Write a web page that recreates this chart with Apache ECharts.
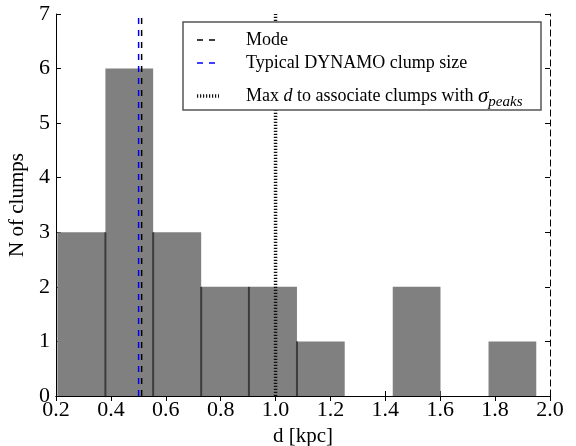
<!DOCTYPE html>
<html>
<head>
<meta charset="utf-8">
<script src="https://cdn.jsdelivr.net/npm/echarts@6/dist/echarts.min.js"></script>
<style>
html, body { margin: 0; padding: 0; background: #fff; }
#chart { width: 576px; height: 446px; }
</style>
</head>
<body>
<div id="chart"></div>
<script>
// histogram bins (kpc) and counts
const binEdges = [0.205, 0.380, 0.554, 0.729, 0.903, 1.078, 1.252, 1.427, 1.601, 1.776, 1.950];
const counts = [3, 6, 3, 2, 2, 1, 0, 2, 0, 1];
// reference lines
const modeD = 0.512;
const typicalD = 0.501;
const maxD = 1.0;
const legendLabels = ['Mode', 'Typical DYNAMO clump size', 'Max {i|d} to associate clumps with {s|σ}{sub|peaks}'];

const serif = '"Liberation Serif", "DejaVu Serif", serif';

const bins = counts.map((c, i) => [binEdges[i], binEdges[i + 1], c, i > 0 ? Math.min(counts[i - 1], c) : 0]);

const chart = echarts.init(document.getElementById('chart'));

const axisBase = {
    axisLine: { show: true, lineStyle: { color: '#000', width: 1 } },
    axisTick: { show: true, inside: true, length: 5, lineStyle: { color: '#000' } },
    splitLine: { show: false }
};

const dashMode = { color: '#000', width: 1.5, type: [6, 6] };
const dashTypical = { color: '#0000ff', width: 1.5, type: [6, 6] };
const dotMax = { color: '#111', width: 3.5, type: [1.2, 1.8] };

// legend drawn as a box in the upper right, above the lines
const legendRows = [
    { y: 40, line: dashMode },
    { y: 63, line: dashTypical },
    { y: 96, line: dotMax }
];
const legendElements = [{
    type: 'rect', z: 100,
    shape: { x: 183, y: 22, width: 358, height: 88 },
    style: { fill: '#fff', stroke: '#555', lineWidth: 1.5 }
}].concat(legendRows.map(r => ({
    type: 'line', z: 101,
    shape: { x1: 197, y1: r.y, x2: 219, y2: r.y },
    style: { stroke: r.line.color, lineWidth: r.line.width, lineDash: r.line.type }
}))).concat(legendRows.map((r, i) => ({
    type: 'text', z: 101, x: 246, y: r.y,
    style: {
        text: legendLabels[i], fontFamily: serif, fontSize: 18, fill: '#000',
        verticalAlign: 'middle', align: 'left',
        rich: {
            i: { fontFamily: serif, fontSize: 18, fontStyle: 'italic', fill: '#000' },
            s: { fontFamily: serif, fontSize: 21, fontStyle: 'italic', fill: '#000' },
            sub: { fontFamily: serif, fontSize: 15, fontStyle: 'italic', fill: '#000', padding: [12, 0, 0, 0] }
        }
    }
})));

const option = {
    animation: false,
    grid: { left: 56, right: 26, top: 14, bottom: 50, outerBoundsMode: 'none' },
    xAxis: [
        Object.assign({}, axisBase, {
            type: 'value', min: 0.2, max: 2.0, interval: 0.2,
            name: 'd [kpc]', nameLocation: 'middle', nameGap: 27,
            nameTextStyle: { fontFamily: serif, fontSize: 21, color: '#000' },
            axisLabel: { fontFamily: serif, fontSize: 22, color: '#000', margin: 3,
                formatter: v => v.toFixed(1) }
        }),
        Object.assign({}, axisBase, {
            type: 'value', min: 0.2, max: 2.0, interval: 0.2, position: 'top',
            axisLabel: { show: false }
        })
    ],
    yAxis: [
        Object.assign({}, axisBase, {
            type: 'value', min: 0, max: 7, interval: 1,
            name: 'N of clumps', nameLocation: 'middle', nameGap: 21,
            nameTextStyle: { fontFamily: serif, fontSize: 21, color: '#000' },
            axisLabel: { fontFamily: serif, fontSize: 22, color: '#000', margin: 6 }
        }),
        Object.assign({}, axisBase, {
            type: 'value', min: 0, max: 7, interval: 1, position: 'right',
            axisLine: { show: true, lineStyle: { color: '#000', width: 1, type: [6, 4] } },
            axisLabel: { show: false }
        })
    ],
    graphic: { elements: legendElements },
    series: [
        {
            type: 'custom',
            xAxisIndex: 0, yAxisIndex: 0,
            data: bins,
            z: 1,
            renderItem: (params, api) => {
                const lo = api.value(0), hi = api.value(1), c = api.value(2), sep = api.value(3);
                if (c <= 0) return null;
                const p0 = api.coord([lo, c]);
                const p1 = api.coord([hi, 0]);
                const children = [{
                    type: 'rect',
                    shape: { x: p0[0], y: p0[1], width: p1[0] - p0[0], height: p1[1] - p0[1] },
                    style: { fill: '#808080' }
                }];
                if (sep > 0) {
                    const s = api.coord([lo, sep]);
                    children.push({
                        type: 'line',
                        shape: { x1: s[0], y1: s[1], x2: s[0], y2: p1[1] },
                        style: { stroke: '#3c3c3c', lineWidth: 2 }
                    });
                }
                return { type: 'group', children };
            }
        },
        {
            name: 'Mode', type: 'line', symbol: 'none', z: 3,
            data: [[modeD, 0], [modeD, 7]],
            lineStyle: dashMode
        },
        {
            name: 'Typical DYNAMO clump size', type: 'line', symbol: 'none', z: 3,
            data: [[typicalD, 0], [typicalD, 7]],
            lineStyle: dashTypical
        },
        {
            name: 'Max', type: 'line', symbol: 'none', z: 3,
            data: [[maxD, 0], [maxD, 7]],
            lineStyle: dotMax
        }
    ]
};

chart.setOption(option);
</script>
</body>
</html>
